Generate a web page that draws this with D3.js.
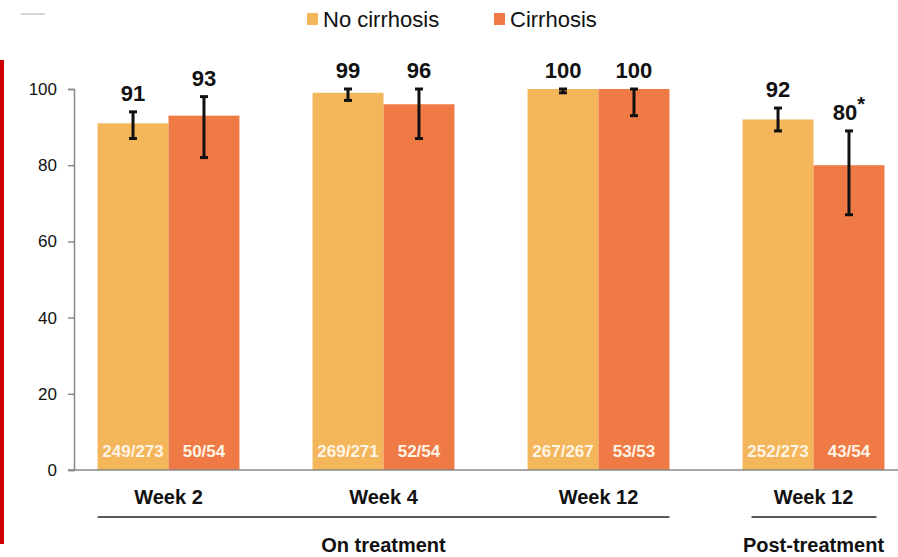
<!DOCTYPE html>
<html lang="en">
<head>
<meta charset="UTF-8">
<title>SVR by cirrhosis status</title>
<script src="https://d3js.org/d3.v7.min.js"></script>
<style>
  body { margin: 0; background: #fff; }
  svg text { font-family: "Liberation Sans", Arial, sans-serif; }
</style>
</head>
<body>
<div id="chart"></div>
<script>
// data
var groups = ["w2", "w4", "w12", "pt12"];
var groupLabels = ["Week 2", "Week 4", "Week 12", "Week 12"];
var series = ["No cirrhosis", "Cirrhosis"];
var noCirrhosis = [91, 99, 100, 92];
var cirrhosis = [93, 96, 100, 80];
var noCirrhosisLow = [87, 97, 99, 89];
var noCirrhosisHigh = [94, 100, 100, 95];
var cirrhosisLow = [82, 87, 93, 67];
var cirrhosisHigh = [98, 100, 100, 89];
var noCirrhosisN = ["249/273", "269/271", "267/267", "252/273"];
var cirrhosisN = ["50/54", "52/54", "53/53", "43/54"];
var valueLabels = [["91", "99", "100", "92"], ["93", "96", "100", "80"]];
var yTicks = [0, 20, 40, 60, 80, 100];
var phases = [{label: "On treatment", from: 0, to: 2}, {label: "Post-treatment", from: 3, to: 3}];

var width = 898, height = 557;
var colors = ["#F4B65A", "#EF7A45"];

var svg = d3.select("#chart").append("svg")
    .attr("width", width)
    .attr("height", height);

// left red strip and small dash at top
svg.append("rect").attr("x", 0).attr("y", 60).attr("width", 4).attr("height", 484).attr("fill", "#CC0000");
svg.append("line").attr("x1", 21).attr("x2", 45).attr("y1", 14).attr("y2", 14)
    .attr("stroke", "#aaa").attr("stroke-width", 1);

var y = d3.scaleLinear().domain([0, 100]).range([470, 89]);
var x0 = d3.scaleBand().domain(groups).range([61, 921]).paddingInner(0.34).paddingOuter(0.17);
var x1 = d3.scaleBand().domain([0, 1]).range([0, x0.bandwidth()]);

// y axis
var yAxis = svg.append("g")
    .attr("transform", "translate(74,0)")
    .call(d3.axisLeft(y).tickValues(yTicks).tickSize(6).tickPadding(11));
yAxis.select(".domain").attr("stroke", "#888").attr("stroke-width", 1.5);
yAxis.selectAll(".tick line").attr("stroke", "#888").attr("stroke-width", 1.5);
yAxis.selectAll(".tick text").attr("fill", "#111").style("font-size", "17px");

var rows = groups.map(function(g, i) {
    return [
        {g: g, i: i, s: 0, v: noCirrhosis[i], lo: noCirrhosisLow[i], hi: noCirrhosisHigh[i], n: noCirrhosisN[i]},
        {g: g, i: i, s: 1, v: cirrhosis[i], lo: cirrhosisLow[i], hi: cirrhosisHigh[i], n: cirrhosisN[i]}
    ];
});
var flat = d3.merge(rows);

function bx(d) { return x0(d.g) + x1(d.s); }

// bars
svg.append("g").selectAll("rect").data(flat).enter().append("rect")
    .attr("x", bx)
    .attr("y", function(d) { return y(d.v); })
    .attr("width", x1.bandwidth())
    .attr("height", function(d) { return y(0) - y(d.v); })
    .attr("fill", function(d) { return colors[d.s]; });

// x axis baseline
svg.append("line").attr("x1", 68).attr("x2", 898).attr("y1", y(0)).attr("y2", y(0))
    .attr("stroke", "#888").attr("stroke-width", 1.5);

// error bars
var eb = svg.append("g").selectAll("g").data(flat).enter().append("g")
    .attr("stroke", "#111").attr("stroke-width", 3);
eb.append("line")
    .attr("x1", function(d) { return bx(d) + x1.bandwidth() / 2; })
    .attr("x2", function(d) { return bx(d) + x1.bandwidth() / 2; })
    .attr("y1", function(d) { return y(d.hi); })
    .attr("y2", function(d) { return y(d.lo); });
eb.selectAll(".cap").data(function(d) { return [d.hi, d.lo].map(function(v) { return {d: d, v: v}; }); })
    .enter().append("line")
    .attr("class", "cap")
    .attr("x1", function(c) { return bx(c.d) + x1.bandwidth() / 2 - 4; })
    .attr("x2", function(c) { return bx(c.d) + x1.bandwidth() / 2 + 4; })
    .attr("y1", function(c) { return y(c.v); })
    .attr("y2", function(c) { return y(c.v); });

// value labels above
var vl = svg.append("g").selectAll("text").data(flat).enter().append("text")
    .attr("x", function(d) { return bx(d) + x1.bandwidth() / 2; })
    .attr("y", function(d) { return y(d.hi) - 11; })
    .attr("text-anchor", "middle")
    .style("font-size", "22px")
    .style("font-weight", "bold")
    .attr("fill", "#111")
    .text(function(d) { return valueLabels[d.s][d.i]; });
vl.filter(function(d) { return d.s === 1 && d.i === 3; })
    .append("tspan").attr("dy", -9).style("font-size", "20px").text("*");

// n labels inside bars
svg.append("g").selectAll("text").data(flat).enter().append("text")
    .attr("x", function(d) { return bx(d) + x1.bandwidth() / 2; })
    .attr("y", 457)
    .attr("text-anchor", "middle")
    .style("font-size", "17px")
    .style("font-weight", "bold")
    .attr("fill", "#FFF4E6")
    .text(function(d) { return d.n; });

// group labels
svg.append("g").selectAll("text").data(groups).enter().append("text")
    .attr("x", function(g) { return x0(g) + x0.bandwidth() / 2; })
    .attr("y", 504)
    .attr("text-anchor", "middle")
    .style("font-size", "20px")
    .style("font-weight", "bold")
    .attr("fill", "#111")
    .text(function(g, i) { return groupLabels[i]; });

// phase brackets
var ph = svg.append("g").selectAll("g").data(phases).enter().append("g");
ph.append("line")
    .attr("x1", function(p) { return p.from === p.to ? x0(groups[p.from]) + 9 : x0(groups[p.from]); })
    .attr("x2", function(p) { return p.from === p.to ? x0(groups[p.to]) + x0.bandwidth() - 8 : x0(groups[p.to]) + x0.bandwidth(); })
    .attr("y1", 517).attr("y2", 517)
    .attr("stroke", "#222").attr("stroke-width", 1.5);
ph.append("text")
    .attr("x", function(p) { return (x0(groups[p.from]) + x0(groups[p.to]) + x0.bandwidth()) / 2; })
    .attr("y", 552)
    .attr("text-anchor", "middle")
    .style("font-size", "20px")
    .style("font-weight", "bold")
    .attr("fill", "#111")
    .text(function(p) { return p.label; });

// legend
var legX = [307, 494];
var leg = svg.append("g").selectAll("g").data(series).enter().append("g")
    .attr("transform", function(s, i) { return "translate(" + legX[i] + ",0)"; });
leg.append("rect").attr("x", 0).attr("y", 13).attr("width", 11).attr("height", 12)
    .attr("fill", function(s, i) { return colors[i]; });
leg.append("text").attr("x", 16).attr("y", 27)
    .style("font-size", "22px").attr("fill", "#111")
    .text(function(s) { return s; });
</script>
</body>
</html>
